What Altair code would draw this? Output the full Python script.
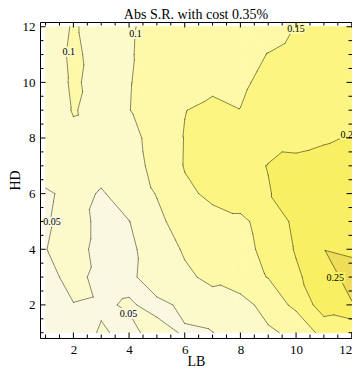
import altair as alt
import pandas as pd

# ---- data -----------------------------------------------------------------
LB = [1, 2, 3, 4, 5, 6, 7, 8, 9, 10, 11, 12]
HD = [1, 2, 3, 4, 5, 6, 7, 8, 9, 10, 11, 12]

# values of the surface, one list per HD row (columns are LB = 1..12)
hd1 = [0.030, 0.035, 0.053, 0.043, 0.060, 0.047, 0.049, 0.070, 0.090, 0.115, 0.165, 0.155]
hd2 = [0.035, 0.049, 0.046, 0.053, 0.042, 0.056, 0.081, 0.075, 0.125, 0.160, 0.225, 0.248]
hd3 = [0.040, 0.060, 0.040, 0.042, 0.070, 0.092, 0.110, 0.138, 0.151, 0.190, 0.235, 0.262]
hd4 = [0.049, 0.068, 0.035, 0.040, 0.075, 0.105, 0.125, 0.144, 0.155, 0.205, 0.2495, 0.245]
hd5 = [0.045, 0.075, 0.035, 0.049, 0.090, 0.120, 0.135, 0.146, 0.158, 0.215, 0.225, 0.235]
hd6 = [0.040, 0.070, 0.045, 0.075, 0.102, 0.140, 0.160, 0.160, 0.198, 0.215, 0.220, 0.225]
hd7 = [0.090, 0.092, 0.070, 0.093, 0.105, 0.153, 0.170, 0.190, 0.201, 0.210, 0.215, 0.220]
hd8 = [0.088, 0.095, 0.093, 0.095, 0.106, 0.152, 0.165, 0.170, 0.190, 0.188, 0.195, 0.203]
hd9 = [0.085, 0.1015, 0.092, 0.099, 0.120, 0.149, 0.160, 0.1505, 0.165, 0.170, 0.175, 0.180]
hd10 = [0.083, 0.104, 0.090, 0.098, 0.117, 0.127, 0.140, 0.145, 0.158, 0.165, 0.170, 0.175]
hd11 = [0.082, 0.106, 0.088, 0.096, 0.118, 0.125, 0.130, 0.138, 0.151, 0.160, 0.165, 0.170]
hd12 = [0.080, 0.103, 0.088, 0.095, 0.115, 0.120, 0.125, 0.130, 0.135, 0.151, 0.160, 0.165]

# grid cells (lower-left LB, HD) whose triangulation uses the other diagonal
FLIP_CELLS = [(2, 1)]

LEVELS = [0.05, 0.10, 0.15, 0.20, 0.25]
BAND_COLORS = ["#faf8e1", "#fcfacb", "#fdf9a8", "#fcf582", "#f9ef63", "#efdc58"]

TITLE = "Abs S.R. with cost 0.35%"
label_text = ["0.1", "0.1", "0.15", "0.2", "0.05", "0.05", "0.25"]
label_lb = [1.83, 4.23, 10.0, 11.82, 1.23, 3.98, 11.41]
label_hd = [11.08, 11.74, 11.93, 8.1, 4.97, 1.66, 2.97]

axis_labels = [2, 4, 6, 8, 10, 12]
ticks_major = [2, 4, 6, 8, 10, 12]
ticks_minor = [1, 1.5, 2.5, 3, 3.5, 4.5, 5, 5.5, 6.5, 7, 7.5, 8.5, 9, 9.5, 10.5, 11, 11.5]

# ---- contour computation (linear interpolation on a triangulated grid) ----
Z = [hd1, hd2, hd3, hd4, hd5, hd6, hd7, hd8, hd9, hd10, hd11, hd12]


def clip(poly, lev, above):
    res = []
    n = len(poly)
    for i in range(n):
        p, q = poly[i], poly[(i + 1) % n]
        pin = p[2] >= lev if above else p[2] <= lev
        qin = q[2] >= lev if above else q[2] <= lev
        if pin:
            res.append(p)
        if pin != qin:
            t = (lev - p[2]) / (q[2] - p[2])
            res.append((p[0] + t * (q[0] - p[0]), p[1] + t * (q[1] - p[1]), lev))
    return res


triangles = []
for j in range(len(HD) - 1):
    for i in range(len(LB) - 1):
        a = (LB[i], HD[j], Z[j][i])
        b = (LB[i + 1], HD[j], Z[j][i + 1])
        c = (LB[i], HD[j + 1], Z[j + 1][i])
        d = (LB[i + 1], HD[j + 1], Z[j + 1][i + 1])
        if (LB[i], HD[j]) in FLIP_CELLS:
            triangles.append([a, b, d])
            triangles.append([a, d, c])
        else:
            triangles.append([a, b, c])
            triangles.append([b, d, c])

bounds = [None] + LEVELS + [None]
poly_rows = []
pid = 0
for tri in triangles:
    for k in range(len(BAND_COLORS)):
        poly = tri
        if bounds[k] is not None:
            poly = clip(poly, bounds[k], True)
        if len(poly) >= 3 and bounds[k + 1] is not None:
            poly = clip(poly, bounds[k + 1], False)
        if len(poly) >= 3:
            pts = poly + [poly[0]]
            for n, p in enumerate(pts):
                poly_rows.append({"pid": pid, "n": n, "x": p[0], "y": p[1], "band": f"b{k}"})
            pid += 1
polys = pd.DataFrame(poly_rows)

seg_rows = []
for tri in triangles:
    for lev in LEVELS:
        pts = []
        for s in range(3):
            p, q = tri[s], tri[(s + 1) % 3]
            if (p[2] - lev) * (q[2] - lev) < 0:
                t = (lev - p[2]) / (q[2] - p[2])
                pts.append((p[0] + t * (q[0] - p[0]), p[1] + t * (q[1] - p[1])))
        if len(pts) == 2:
            seg_rows.append({"x": pts[0][0], "y": pts[0][1], "x2": pts[1][0], "y2": pts[1][1]})
segs = pd.DataFrame(seg_rows)

labels = pd.DataFrame({"t": label_text, "x": label_lb, "y": label_hd})
labels["halo"] = [BAND_COLORS[LEVELS.index(float(t))] for t in label_text]

# ---- chart -----------------------------------------------------------------
W, H = 312, 316
FONT = "Liberation Serif"
xs = alt.Scale(domain=[0.8, 12.01], nice=False, zero=False)
ys = alt.Scale(domain=[0.81, 12.17], nice=False, zero=False)
AXSTYLE = dict(values=axis_labels, ticks=False, tickSize=0, domain=False, grid=False, format="d",
               labelFont=FONT, labelFontSize=13, labelColor="black",
               titleFont=FONT, titleFontSize=14, titleFontWeight="normal", titleColor="black")
XAX = alt.Axis(title="LB", labelPadding=5, titlePadding=-2, **AXSTYLE)
YAX = alt.Axis(title="HD", labelPadding=5, titlePadding=0, **AXSTYLE)
band_scale = alt.Scale(domain=[f"b{k}" for k in range(len(BAND_COLORS))], range=BAND_COLORS)


def X(field):
    return alt.X(field, scale=xs, axis=XAX)


def Y(field):
    return alt.Y(field, scale=ys, axis=YAX)


fills = alt.Chart(polys).mark_line(strokeWidth=0.8, interpolate="linear").encode(
    x=X("x:Q"), y=Y("y:Q"),
    fill=alt.Fill("band:N", scale=band_scale, legend=None),
    stroke=alt.Stroke("band:N", scale=band_scale, legend=None),
    detail="pid:N",
    order="n:Q",
)

lines = alt.Chart(segs).mark_rule(color="black", opacity=0.45, strokeWidth=1, strokeCap="round").encode(
    x=X("x:Q"), y=Y("y:Q"), x2="x2:Q", y2="y2:Q",
)

halo = alt.Chart(labels).mark_text(font=FONT, fontSize=10, strokeWidth=4).encode(
    x=X("x:Q"), y=Y("y:Q"),
    text="t:N", stroke=alt.Stroke("halo:N", scale=None), fill=alt.Fill("halo:N", scale=None),
)
text = alt.Chart(labels).mark_text(font=FONT, fontSize=10, color="black").encode(
    x=X("x:Q"), y=Y("y:Q"), text="t:N",
)

title = alt.Chart(pd.DataFrame({"t": [TITLE]})).mark_text(
    font=FONT, fontSize=14, color="black", baseline="alphabetic", align="center"
).encode(text="t:N", x=alt.value(W / 2), y=alt.value(-3))


def tick_layers(values, length):
    df = pd.DataFrame({"v": values})
    base = alt.Chart(df).mark_rule(color="black", strokeWidth=1)
    return [
        base.encode(x=X("v:Q"), y=alt.value(H), y2=alt.value(H - length)),
        base.encode(x=X("v:Q"), y=alt.value(0), y2=alt.value(length)),
        base.encode(y=Y("v:Q"), x=alt.value(0), x2=alt.value(length)),
        base.encode(y=Y("v:Q"), x=alt.value(W), x2=alt.value(W - length)),
    ]


chart = alt.layer(
    fills, lines, halo, text, *tick_layers(ticks_major, 5.5), *tick_layers(ticks_minor, 3.5), title
).properties(
    width=W, height=H,
    padding={"left": 32, "top": 14, "right": 0, "bottom": 34},
    autosize=alt.AutoSizeParams(type="none"),
    background="white",
).configure_view(stroke="black", strokeWidth=1)

chart.save("out.html", embed_options={"renderer": "svg", "actions": False})
